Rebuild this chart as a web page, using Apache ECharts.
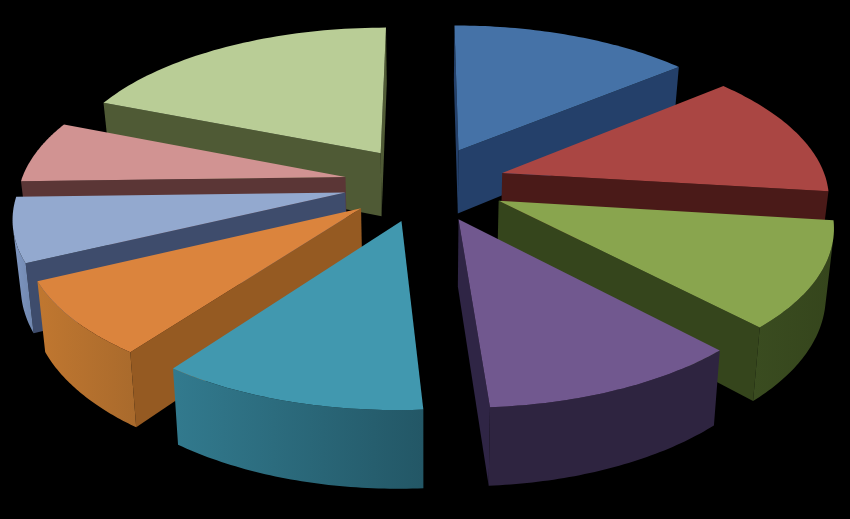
<!DOCTYPE html>
<html>
<head>
<meta charset="utf-8">
<style>html,body{margin:0;padding:0;background:#000}#c{width:850px;height:519px}</style>
<script src="https://cdn.jsdelivr.net/npm/echarts@6/dist/echarts.min.js"></script>
</head>
<body>
<div id="c"></div>
<script>
const categories = ['A','B','C','D','E','F','G','H','I'];
const values = [14, 13, 11.05, 11, 11.15, 7.8, 6.7, 6.5, 19];
const topColors = ['#4572a7','#aa4643','#89a54e','#71588f','#4198af','#db843d','#93a9cf','#d19392','#b9cd96'];
const cutColors = ['#24406a','#4a1a18','#35451c','#2f2545','#235766','#955a22','#3e4c6c','#5b3636','#4f5a35'];
const wallLight = ['#2f5484','#5e2422','#3a4c20','#2e2440','#327a8e','#c07730','#8098c2','#a07070','#7a8a5a'];
const wallDark = ['#24406a','#4a1a18','#35451c','#2e2440','#235766','#a96a2c','#6f86ae','#6a4444','#4f5a35'];

const cx = 425, cy = 183.5, A = 325, B = 151, p = 0.14, explode = 0.25, H = 65, q = 0.02;
const total = values.reduce((a, b) => a + b, 0);
let acc = 0;
const spans = values.map(v => { const s = acc / total * 2 * Math.PI; acc += v; return [s, acc / total * 2 * Math.PI]; });

function project(X, Y, bottom) {
  const w = 1 - p * Y;
  return [cx + A * X / w * (bottom ? 1 - q : 1), cy + (B * Y + (bottom ? H : 0)) / w];
}
function area(pts) {
  let s = 0;
  pts.forEach((a, i) => { const b = pts[(i + 1) % pts.length]; s += a[0] * b[1] - b[0] * a[1]; });
  return s;
}

function renderItem(params, api) {
  const i = params.dataIndex;
  const [a0, a1] = spans[i];
  const m = (a0 + a1) / 2;
  const ox = explode * Math.sin(m), oy = -explode * Math.cos(m);
  const steps = 48;
  const rim = [];
  for (let k = 0; k <= steps; k++) {
    const t = a0 + (a1 - a0) * k / steps;
    rim.push([ox + Math.sin(t), oy - Math.cos(t)]);
  }
  const top = [[ox, oy]].concat(rim).map(r => project(r[0], r[1], false));
  const children = [];
  const order = Math.round((oy + 2) * 100);
  // cut faces facing the viewer
  [[[ox, oy], rim[0]], [rim[steps], [ox, oy]]].forEach(f => {
    const pts = [project(f[0][0], f[0][1], false), project(f[1][0], f[1][1], false),
                 project(f[1][0], f[1][1], true), project(f[0][0], f[0][1], true)];
    if (area(pts) < 0) children.push({type: 'polygon', shape: {points: pts}, style: {fill: cutColors[i]}, z2: 1});
  });
  // outer wall: only the stretch facing the viewer
  const wallTop = [], wallBot = [];
  for (let k = 0; k < steps; k++) {
    const a = rim[k], b = rim[k + 1];
    const quad = [project(a[0], a[1], false), project(b[0], b[1], false), project(b[0], b[1], true), project(a[0], a[1], true)];
    if (area(quad) < 0) {
      if (!wallTop.length) { wallTop.push(quad[0]); wallBot.push(quad[3]); }
      wallTop.push(quad[1]); wallBot.push(quad[2]);
    }
  }
  if (wallTop.length) {
    const pts = wallTop.concat(wallBot.slice().reverse());
    const xs = pts.map(a => a[0]);
    children.push({type: 'polygon', shape: {points: pts}, z2: 2, style: {
      fill: new echarts.graphic.LinearGradient(Math.min(...xs), 0, Math.max(...xs), 0,
        [{offset: 0, color: wallLight[i]}, {offset: 1, color: wallDark[i]}], true)
    }});
  }
  children.push({type: 'polygon', shape: {points: top}, z2: 3, style: {fill: topColors[i]}});
  return {type: 'group', children: children.map(c => Object.assign(c, {z2: order * 10 + c.z2}))};
}

const chart = echarts.init(document.getElementById('c'), null, {renderer: 'canvas'});
chart.setOption({
  backgroundColor: '#000',
  animation: false,
  series: [{
    type: 'custom',
    coordinateSystem: 'none',
    renderItem,
    data: categories.map((c, i) => ({name: c, value: values[i]}))
  }]
});
</script>
</body>
</html>
